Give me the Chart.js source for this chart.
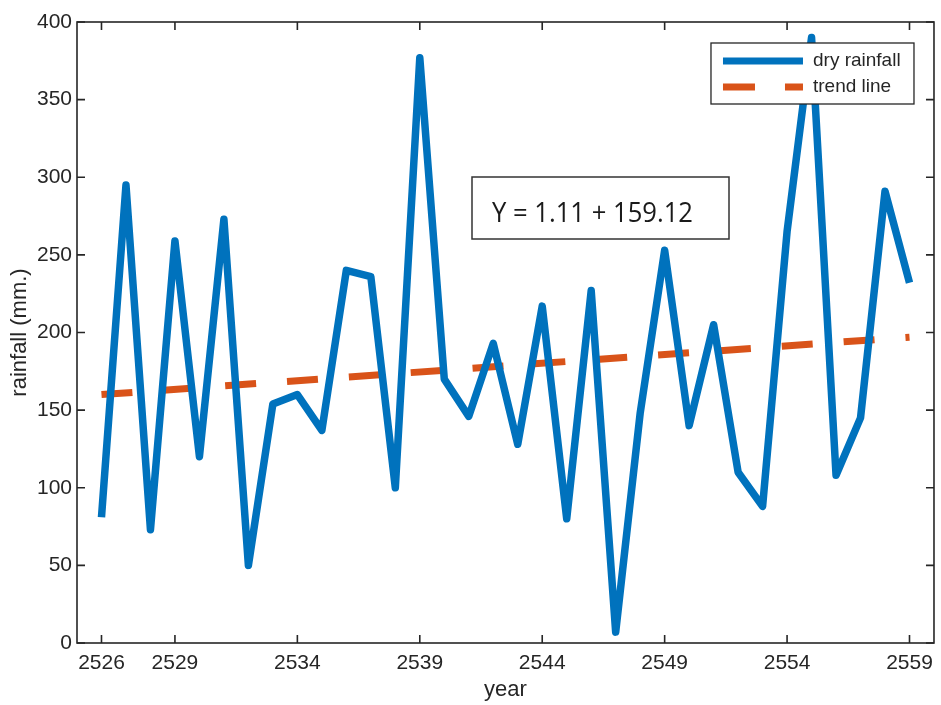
<!DOCTYPE html>
<html>
<head>
<meta charset="utf-8">
<script src="https://cdn.jsdelivr.net/npm/chart.js@4"></script>
<style>
  html, body { margin: 0; padding: 0; background: #fff; }
  #wrap { width: 941px; height: 705px; }
</style>
</head>
<body>
<div id="wrap"><canvas id="rainChart" width="941" height="705"></canvas></div>
<script>
// Data
const years = [2526, 2527, 2528, 2529, 2530, 2531, 2532, 2533, 2534, 2535, 2536, 2537,
  2538, 2539, 2540, 2541, 2542, 2543, 2544, 2545, 2546, 2547, 2548, 2549,
  2550, 2551, 2552, 2553, 2554, 2555, 2556, 2557, 2558, 2559];
const dryRainfall = [81, 295, 73, 259, 120, 273, 50, 154, 160, 137, 240, 236,
  100, 377, 170, 146, 193, 128, 217, 80, 227, 7, 148, 253,
  140, 205, 110, 88, 265, 390, 108, 145, 291, 232];
const trendYears = [2526, 2559];
const trendValues = [160, 197];
const xTickValues = [2526, 2529, 2534, 2539, 2544, 2549, 2554, 2559];
const equationText = "Y = 1.11 + 159.12";

const BLUE = "#0072BD";
const ORANGE = "#D95319";
const INK = "#262626";

// Box round the plot with inward ticks, legend and equation box
const framePlugin = {
  id: "frame",
  afterDatasetsDraw(chart) {
    const ctx = chart.ctx;
    const a = chart.chartArea;
    const xs = chart.scales.x;
    const ys = chart.scales.y;
    ctx.save();
    ctx.strokeStyle = INK;
    ctx.lineWidth = 1.6;
    ctx.strokeRect(a.left, a.top, a.right - a.left, a.bottom - a.top);
    ctx.beginPath();
    xTickValues.forEach((v) => {
      const px = xs.getPixelForValue(v);
      ctx.moveTo(px, a.bottom); ctx.lineTo(px, a.bottom - 8);
      ctx.moveTo(px, a.top); ctx.lineTo(px, a.top + 8);
    });
    ys.ticks.forEach((t) => {
      const py = ys.getPixelForValue(t.value);
      ctx.moveTo(a.left, py); ctx.lineTo(a.left + 8, py);
      ctx.moveTo(a.right, py); ctx.lineTo(a.right - 8, py);
    });
    ctx.stroke();

    // legend
    const lx = a.right - 223, ly = a.top + 21, lw = 203, lh = 61;
    ctx.fillStyle = "#fff";
    ctx.fillRect(lx, ly, lw, lh);
    ctx.lineWidth = 1.3;
    ctx.strokeRect(lx, ly, lw, lh);
    ctx.lineWidth = 7;
    ctx.lineCap = "butt";
    ctx.strokeStyle = BLUE;
    ctx.beginPath();
    ctx.moveTo(lx + 12, ly + 18); ctx.lineTo(lx + 92, ly + 18);
    ctx.stroke();
    ctx.strokeStyle = ORANGE;
    ctx.setLineDash([32, 30]);
    ctx.beginPath();
    ctx.moveTo(lx + 12, ly + 44); ctx.lineTo(lx + 92, ly + 44);
    ctx.stroke();
    ctx.setLineDash([]);
    ctx.fillStyle = INK;
    ctx.font = "19px 'Liberation Sans', Arial, sans-serif";
    ctx.textBaseline = "middle";
    ctx.textAlign = "left";
    chart.data.datasets.forEach((ds, i) => {
      ctx.fillText(ds.label, lx + 102, ly + 18 + i * 26);
    });

    // equation box
    const bx = a.left + 395, by = a.top + 155, bw = 257, bh = 62;
    ctx.fillStyle = "#fff";
    ctx.fillRect(bx, by, bw, bh);
    ctx.strokeStyle = "#333";
    ctx.lineWidth = 1.5;
    ctx.strokeRect(bx, by, bw, bh);
    ctx.fillStyle = "#1a1a1a";
    ctx.font = "28px 'Open Sans', 'Noto Sans', sans-serif";
    ctx.textBaseline = "alphabetic";
    const tw = ctx.measureText(equationText).width;
    const sx = 201 / tw;
    ctx.translate(bx + 20, by + 45);
    ctx.scale(sx, 1);
    ctx.fillText(equationText, 0, 0);
    ctx.restore();
  }
};

new Chart(document.getElementById("rainChart").getContext("2d"), {
  type: "line",
  data: {
    datasets: [
      {
        label: "dry rainfall",
        data: years.map((y, i) => ({ x: y, y: dryRainfall[i] })),
        borderColor: BLUE,
        borderWidth: 7.5,
        borderJoinStyle: "round",
        borderCapStyle: "butt",
        pointRadius: 0,
        tension: 0,
      },
      {
        label: "trend line",
        data: trendYears.map((y, i) => ({ x: y, y: trendValues[i] })),
        borderColor: ORANGE,
        borderWidth: 7,
        borderDash: [31, 31],
        borderCapStyle: "butt",
        pointRadius: 0,
      },
    ],
  },
  options: {
    responsive: false,
    animation: false,
    layout: { padding: { top: 22, right: 5, left: 0, bottom: 0 } },
    plugins: {
      legend: { display: false },
      tooltip: { enabled: false },
    },
    scales: {
      x: {
        type: "linear",
        min: 2525,
        max: 2560,
        afterBuildTicks: (scale) => {
          scale.ticks = xTickValues.map((v) => ({ value: v }));
        },
        afterFit: (scale) => { scale.height = 62; },
        grid: { display: false, drawTicks: false },
        border: { display: false },
        ticks: {
          autoSkip: false,
          maxRotation: 0,
          padding: 8,
          color: INK,
          font: { family: "'Liberation Sans', Arial, sans-serif", size: 21 },
          callback: (v) => String(v),
        },
        title: {
          display: true,
          text: "year",
          color: INK,
          padding: { top: 0, bottom: 2 },
          font: { family: "'Liberation Sans', Arial, sans-serif", size: 22 },
        },
      },
      y: {
        min: 0,
        max: 400,
        afterFit: (scale) => { scale.width = 77; },
        grid: { display: false, drawTicks: false },
        border: { display: false },
        ticks: {
          stepSize: 50,
          padding: 5,
          color: INK,
          font: { family: "'Liberation Sans', Arial, sans-serif", size: 21 },
        },
        title: {
          display: true,
          text: "rainfall (mm.)",
          color: INK,
          padding: { top: 7, bottom: 0 },
          font: { family: "'Liberation Sans', Arial, sans-serif", size: 22 },
        },
      },
    },
  },
  plugins: [framePlugin],
});
</script>
</body>
</html>
